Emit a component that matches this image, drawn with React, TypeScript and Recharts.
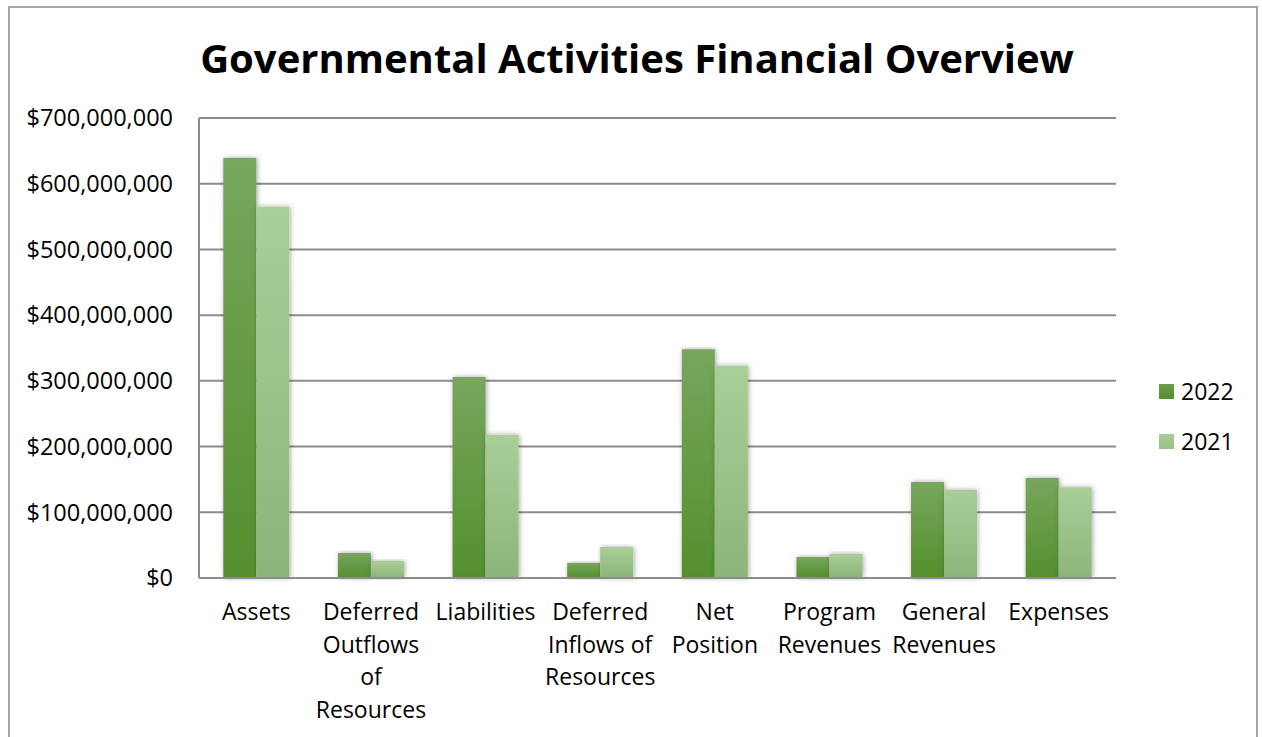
import React from "react";
import { BarChart, Bar, XAxis, YAxis, CartesianGrid } from "recharts";

const categories = [
  "Assets",
  "Deferred\nOutflows\nof\nResources",
  "Liabilities",
  "Deferred\nInflows of\nResources",
  "Net\nPosition",
  "Program\nRevenues",
  "General\nRevenues",
  "Expenses",
];
const values2022 = [639000000, 38000000, 306000000, 23000000, 348000000, 32000000, 146000000, 152000000];
const values2021 = [565000000, 26000000, 218000000, 47000000, 323000000, 37000000, 134000000, 138000000];
const yTicks = [0, 100000000, 200000000, 300000000, 400000000, 500000000, 600000000, 700000000];
const seriesNames = ["2022", "2021"];

const data = categories.map((c, i) => ({ name: c, v2022: values2022[i], v2021: values2021[i] }));

const FONT = "'Open Sans', sans-serif";

const fmt = (v: number) => "$" + v.toLocaleString("en-US");

const XTick = (props: any) => {
  const { x, y, payload } = props;
  const lines = String(payload.value).split("\n");
  return (
    <g transform={`translate(${x},${y})`}>
      {lines.map((l, i) => (
        <text key={i} x={0} y={i * 32.5} dy={34} textAnchor="middle" fill="#000" fontSize={23} fontFamily={FONT}>
          {l}
        </text>
      ))}
    </g>
  );
};

export default function App() {
  return (
    <div style={{ position: "fixed", left: 0, top: 0, width: 1262, height: 737, background: "#fff", overflow: "hidden" }}>
      <div style={{ position: "absolute", left: 8, top: 6, width: 1250, height: 760, border: "2px solid #a6a6a6", boxSizing: "border-box" }} />
      <div style={{ position: "absolute", left: 0, width: 1262, top: 33, textAlign: "center", fontFamily: FONT, fontWeight: 700, fontSize: 40, lineHeight: "50px", color: "#000", paddingLeft: 6 }}>
        Governmental Activities Financial Overview
      </div>
      <div style={{ position: "absolute", left: 0, top: 0 }}>
        <BarChart width={1262} height={737} data={data} margin={{ top: 118, right: 146, bottom: 0, left: 0 }} barCategoryGap="21.2%" barGap={0}>
          <defs>
            <linearGradient id="g2022" x1="0" y1="0" x2="0" y2="1">
              <stop offset="0%" stopColor="#77a65d" />
              <stop offset="100%" stopColor="#548f2e" />
            </linearGradient>
            <linearGradient id="g2021" x1="0" y1="0" x2="0" y2="1">
              <stop offset="0%" stopColor="#a9cf98" />
              <stop offset="100%" stopColor="#8db47a" />
            </linearGradient>
            <filter id="shadow" x="-30%" y="-10%" width="160%" height="120%">
              <feDropShadow dx="1" dy="0" stdDeviation="2.5" floodColor="#000" floodOpacity="0.35" />
            </filter>
          </defs>
          <CartesianGrid vertical={false} stroke="#8c8c8c" strokeWidth={2} />
          <XAxis
            dataKey="name"
            interval={0}
            height={159}
            tick={<XTick />}
            tickLine={false}
            axisLine={{ stroke: "#8c8c8c", strokeWidth: 2 }}
          />
          <YAxis
            width={199}
            domain={[0, 700000000]}
            ticks={yTicks}
            tickFormatter={fmt}
            tickLine={false}
            tickMargin={20}
            axisLine={{ stroke: "#8c8c8c", strokeWidth: 2 }}
            tick={{ fill: "#000", fontSize: 23.5, fontFamily: FONT }}
          />
          <Bar dataKey="v2022" name={seriesNames[0]} fill="url(#g2022)" filter="url(#shadow)" isAnimationActive={false} />
          <Bar dataKey="v2021" name={seriesNames[1]} fill="url(#g2021)" filter="url(#shadow)" isAnimationActive={false} />
        </BarChart>
      </div>
      {seriesNames.map((s, i) => (
        <div key={s} style={{ position: "absolute", left: 1159, top: 376 + i * 50, height: 30, display: "flex", alignItems: "center", fontFamily: FONT, fontSize: 23, color: "#000" }}>
          <div style={{ width: 15, height: 15, background: i === 0 ? "linear-gradient(#6a9e4c,#548f2e)" : "linear-gradient(#a9cf98,#98bf86)", marginRight: 7 }} />
          <span>{s}</span>
        </div>
      ))}
    </div>
  );
}
